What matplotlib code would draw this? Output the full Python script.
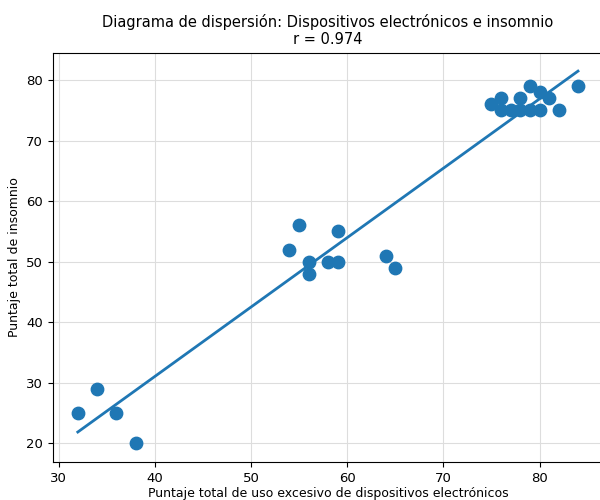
import numpy as np
import matplotlib
matplotlib.use("Agg")
import matplotlib.pyplot as plt

# Puntajes
uso = [32, 34, 36, 38,
       54, 55, 56, 56, 58, 59, 59, 64, 65,
       75, 76, 76, 77, 78, 78, 79, 79, 80, 80, 81, 82, 84]
insomnio = [25, 29, 25, 20,
            52, 56, 50, 48, 50, 50, 55, 51, 49,
            76, 77, 75, 75, 75, 77, 79, 75, 78, 75, 77, 75, 79]

x = np.array(uso)
y = np.array(insomnio)

# recta de regresion
m, b = np.polyfit(x, y, 1)
xs = np.array([x.min(), x.max()])

fig = plt.figure(figsize=(6, 5), dpi=100)
ax = fig.add_axes([0.088, 0.076, 0.917, 0.819])
ax.scatter(x, y, s=80, color='#1f77b4', zorder=3)
ax.plot(xs, m * xs + b, color='#1f77b4', linewidth=2, zorder=2)
ax.grid(True, color='#dddddd', linewidth=0.8)
ax.set_axisbelow(True)
ax.tick_params(labelsize=9.5)
ax.set_title('Diagrama de dispersión: Dispositivos electrónicos e insomnio\nr = 0.974', fontsize=10.5)
ax.set_xlabel('Puntaje total de uso excesivo de dispositivos electrónicos', fontsize=9, labelpad=2)
ax.set_ylabel('Puntaje total de insomnio', fontsize=9)
fig.savefig('out.png', dpi=100)
